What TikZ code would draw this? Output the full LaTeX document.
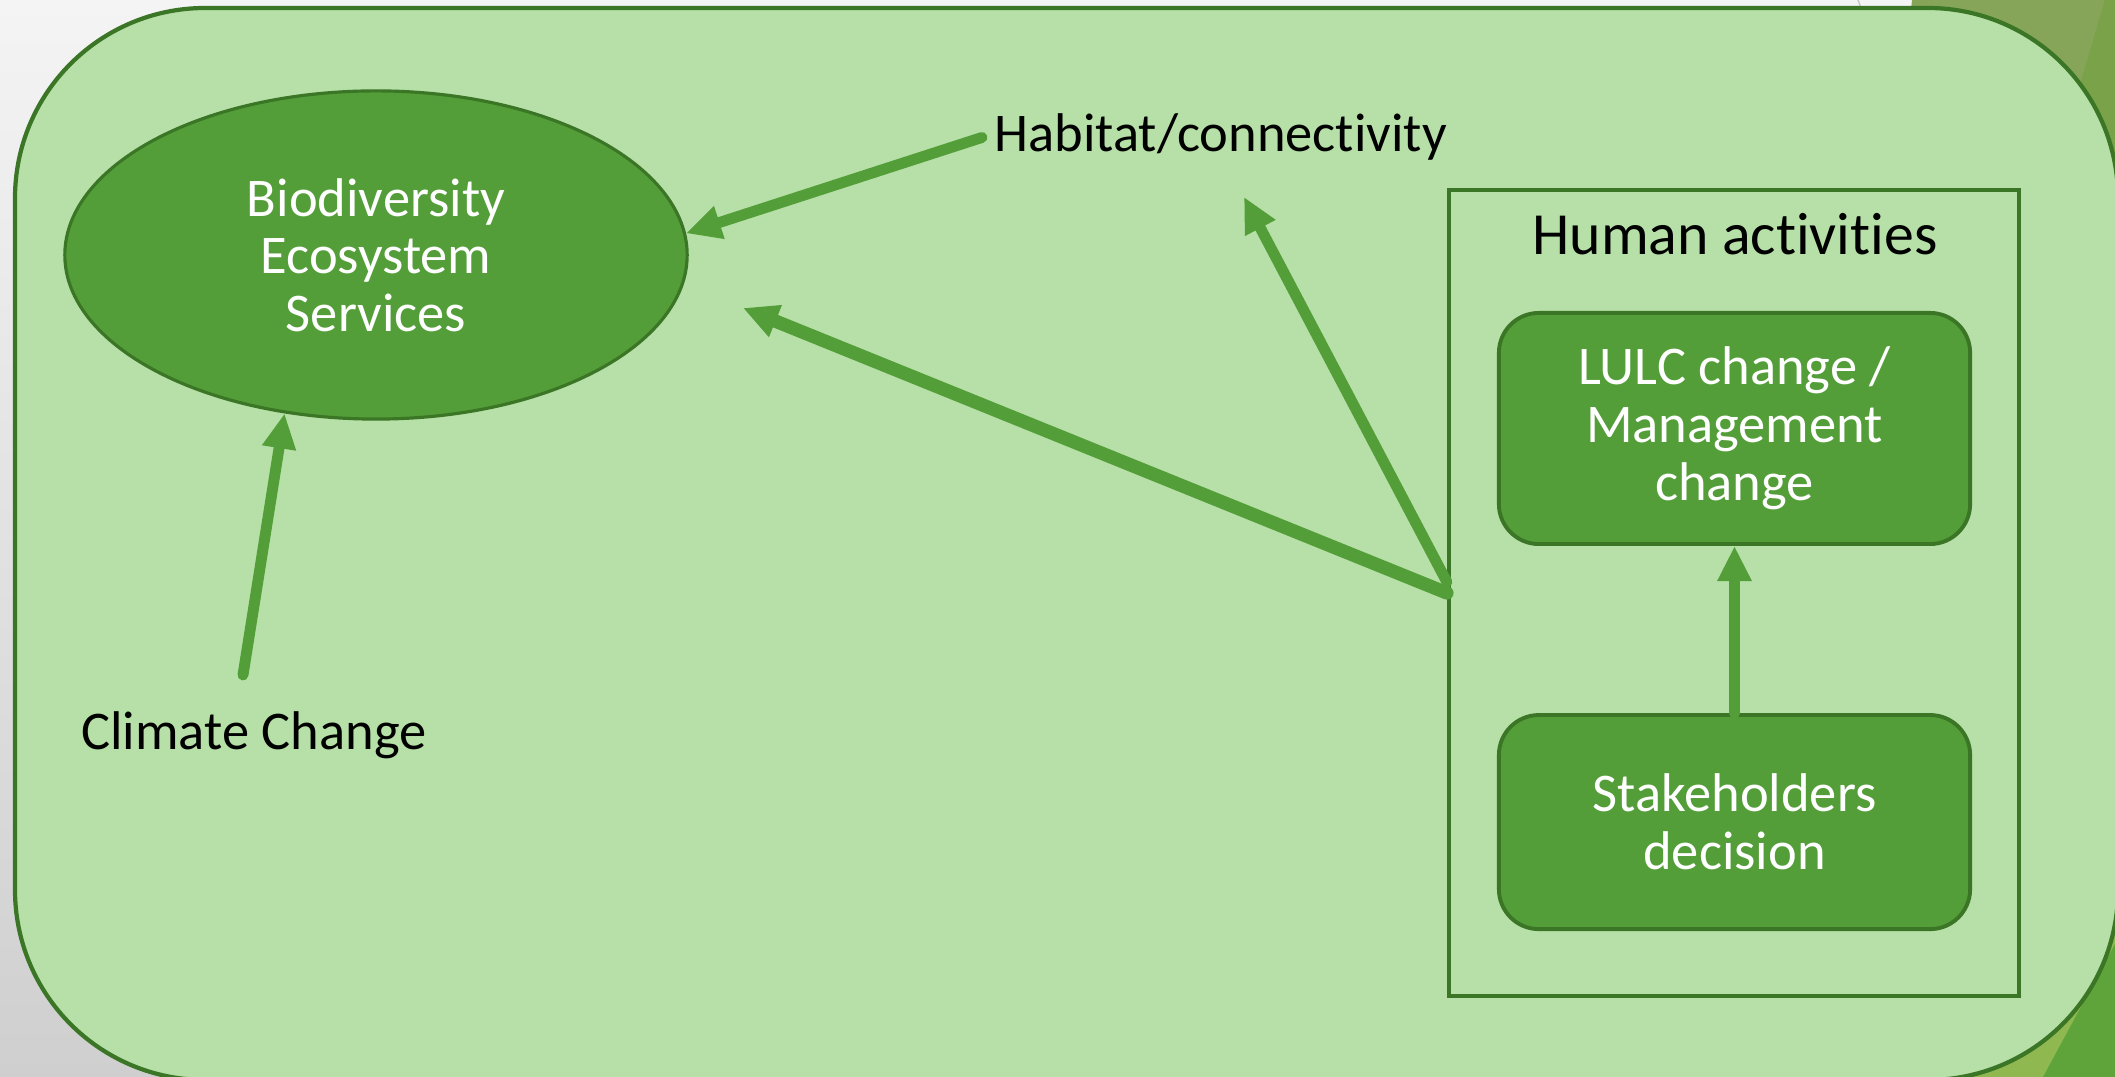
\documentclass[tikz,border=0pt]{standalone}
\usepackage{fontspec}
\setmainfont{Carlito}[Ligatures={NoCommon}]
\usepackage{tikz}
\usetikzlibrary{arrows.meta, calc, positioning, shapes.geometric}

\definecolor{paleleaf}{HTML}{B6E0A7}
\definecolor{leaf}{HTML}{549E39}
\definecolor{darkleaf}{HTML}{3B7526}
\definecolor{bgtop}{HTML}{F4F4F4}
\definecolor{bgbot}{HTML}{CFCFCF}
\definecolor{olive}{HTML}{86A558}
\definecolor{oliveB}{HTML}{79A249}
\definecolor{grass}{HTML}{5FA33B}
\definecolor{lime}{HTML}{90B851}

\tikzset{
	effect/.style={draw=leaf, line width=3.1pt, line cap=round, -{Triangle[length=0.35cm,width=0.32cm]}},
	bubble/.style={ellipse, draw=darkleaf, line width=0.9pt, fill=leaf, text=white, align=center, minimum width=6.22cm, minimum height=3.28cm, font=\fontsize{15.5}{16.3}\selectfont},
	greenbox/.style={rectangle, draw=darkleaf, line width=1.1pt, fill=leaf, rounded corners=0.4cm, text=white, align=center, minimum width=4.71cm, font=\fontsize{15.5}{16.5}\selectfont},
	label/.style={text=black, font=\fontsize{15.5}{18}\selectfont}
}

\begin{document}
\begin{tikzpicture}[x=0.01cm,y=-0.01cm]
    							\useasboundingbox (0,0) rectangle (2115,1077);
    							\shade[top color=bgtop, bottom color=bgbot] (0,0) rectangle (2115,1077);
    							\fill[olive] (1912,0) -- (2115,0) -- (2115,320) -- (1880,320) -- cycle;
    							\fill[oliveB] (2105,0) -- (2115,0) -- (2115,320) -- (2010,320) -- cycle;
    							\draw[gray!45, line width=0.4pt] (1858,0) -- (1866,22);
    							\fill[lime] (1850,1077) -- (2115,1077) -- (2115,800) -- cycle;
    							\fill[grass] (2043,1077) -- (2115,1077) -- (2115,944) -- cycle;

    							\draw[draw=darkleaf, line width=1.2pt, fill=paleleaf, rounded corners=1.9cm] (15,8) rectangle (2118,1080);

    							\coordinate (bioin) at (743,308);
    							\coordinate (habup) at (1244,197);
    							\coordinate (climup) at (243,675);

							    \node[bubble] (bio) at (376,255) {Biodiversity\\Ecosystem\\Services};
							    \node[label, anchor=base west] (habitat) at (982,152) {Habitat/connectivity};
							    \node[label, anchor=base west] (climate) at (69,750) {Climate Change};

							    \node[draw=darkleaf, line width=1.1pt, minimum width=5.7cm, minimum height=8.06cm] (act) at (1734,593) {};
							    \node[label, anchor=base, font=\fontsize{17}{20}\selectfont] (acttitle) at (1735,255) {Human activities};
							    \node[greenbox, minimum height=2.31cm] (lulc) at (1734.5,428.5) {LULC change /\\Management\\change};
							    \node[greenbox, minimum height=2.14cm, below=1.67cm of lulc] (stake) {Stakeholders\\decision};

							    \draw[effect] (habitat.west) -- (bio.4);
							    \draw[effect, line width=3.8pt] (act.west) -- (bioin);
							    \draw[effect] ([yshift=0.11cm]act.west) -- (habup);
							    \draw[effect] (climup) -- (bio.240);
							    \draw[effect] (stake.north) -- (lulc.south);
\end{tikzpicture}
\end{document}
